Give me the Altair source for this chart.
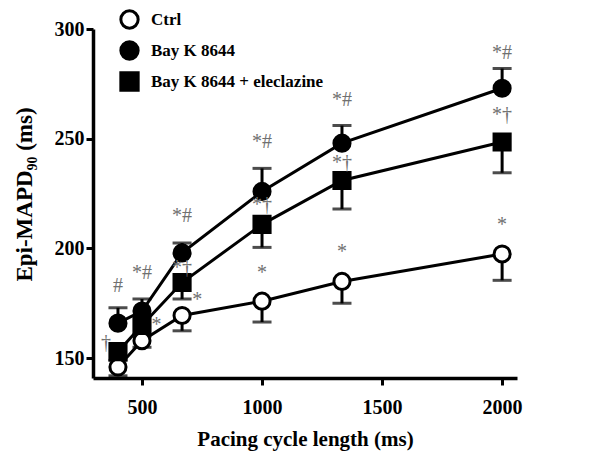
import altair as alt
import pandas as pd

groups = ["Ctrl", "Bay K 8644", "Bay K 8644 + eleclazine"]
cycle = [400, 500, 667, 1000, 1333, 2000]
ctrl_mean = [146, 158, 169.5, 176, 185, 197.5]
ctrl_sem = [4, 3, 7, 9.5, 10, 12]
bay_mean = [166, 171.5, 198, 226, 248, 273]
bay_sem = [7, 5.5, 4.5, 10.5, 8, 9]
ele_mean = [153, 165, 184.5, 211, 231, 248.5]
ele_sem = [4, 5, 7.5, 10.5, 13, 14]
err_dir = [-1, 1, -1]  # error bar drawn downward (-1) or upward (+1)

ann_x = [400, 500, 350, 560, 667, 667, 730, 1000, 1000, 1000, 1333, 1333, 1333, 2000, 2000, 2000]
ann_y = [183, 189, 157, 165, 215, 191, 176.5, 189, 220, 248.5, 198.5, 239, 267.5, 210.5, 261, 289]
ann_text = ["#", "*#", "†", "*", "*#", "*†", "*", "*", "*†", "*#", "*", "*†", "*#", "*", "*†", "*#"]

means = [ctrl_mean, bay_mean, ele_mean]
sems = [ctrl_sem, bay_sem, ele_sem]
rows = []
for gi, g in enumerate(groups):
    for i, c in enumerate(cycle):
        m = means[gi][i]
        e = m + err_dir[gi] * sems[gi][i]
        rows.append({"group": g, "order": gi, "cycle": c, "mean": m, "err": e})
df = pd.DataFrame(rows)
ann = pd.DataFrame({"x": ann_x, "y": ann_y, "t": ann_text})

FONT = "Liberation Serif"
xs = alt.Scale(domain=[296, 2062], nice=False, zero=False)
ys = alt.Scale(domain=[141, 300], nice=False, zero=False)

X = alt.X("cycle:Q", scale=xs,
          axis=alt.Axis(values=[500, 1000, 1500, 2000], format="d",
                        title="Pacing cycle length (ms)", titleY=61, titleBaseline="middle"))
Y = alt.Y("mean:Q", scale=ys,
          axis=alt.Axis(values=[150, 200, 250, 300], title="Epi-MAPD₉₀ (ms)",
                        titleX=-69, titleY=165, titleBaseline="middle", titleAlign="center"))

base = alt.Chart(df)

lines = base.mark_line(color="black", strokeWidth=3).encode(
    x=X, y=Y, detail="group:N", order="cycle:Q")

bars = base.mark_rule(color="black", strokeWidth=3).encode(
    x="cycle:Q", y="mean:Q", y2="err:Q")

caps = base.mark_tick(color="black", thickness=3, size=19, orient="horizontal").encode(
    x="cycle:Q", y="err:Q")

points = base.mark_point(filled=True, strokeWidth=3, opacity=1, size=260).encode(
    x="cycle:Q", y="mean:Q",
    shape=alt.Shape("group:N", scale=alt.Scale(domain=groups, range=["circle", "circle", "square"]), title=None,
                    legend=alt.Legend(orient="none", legendX=26, legendY=-20, padding=0,
                                      symbolSize=300, symbolStrokeWidth=3,
                                      labelFont=FONT, labelFontSize=17, labelFontWeight="bold",
                                      labelColor="black", labelOffset=11, rowPadding=0,
                                      labelLimit=400)),
    fill=alt.Fill("group:N", scale=alt.Scale(domain=groups, range=["white", "black", "black"]), title=None),
    stroke=alt.Stroke("group:N", scale=alt.Scale(domain=groups, range=["black", "black", "black"]), title=None),
    order="order:Q")

texts = alt.Chart(ann).mark_text(font=FONT, fontSize=20, color="#707070", align="center",
                                 baseline="middle").encode(
    x="x:Q", y="y:Q", text="t:N")

chart = alt.layer(lines, bars, caps, points, texts).properties(
    width=424, height=349,
    autosize=alt.AutoSizeParams(type="none"),
    padding={"left": 85, "top": 21, "right": 90, "bottom": 80},
).configure_view(stroke=None).configure_axis(
    grid=False, domainColor="black", domainWidth=3.5, tickColor="black", tickWidth=3, tickSize=7,
    labelFont=FONT, labelFontSize=20, labelFontWeight="bold", labelColor="black", labelPadding=4,
    titleFont=FONT, titleFontSize=21, titleFontWeight="bold", titleColor="black",
).configure_axisY(titleFontSize=23, labelPadding=2).configure_axisX(labelPadding=12)

chart.save("out.html", embed_options={"renderer": "svg", "actions": False})
